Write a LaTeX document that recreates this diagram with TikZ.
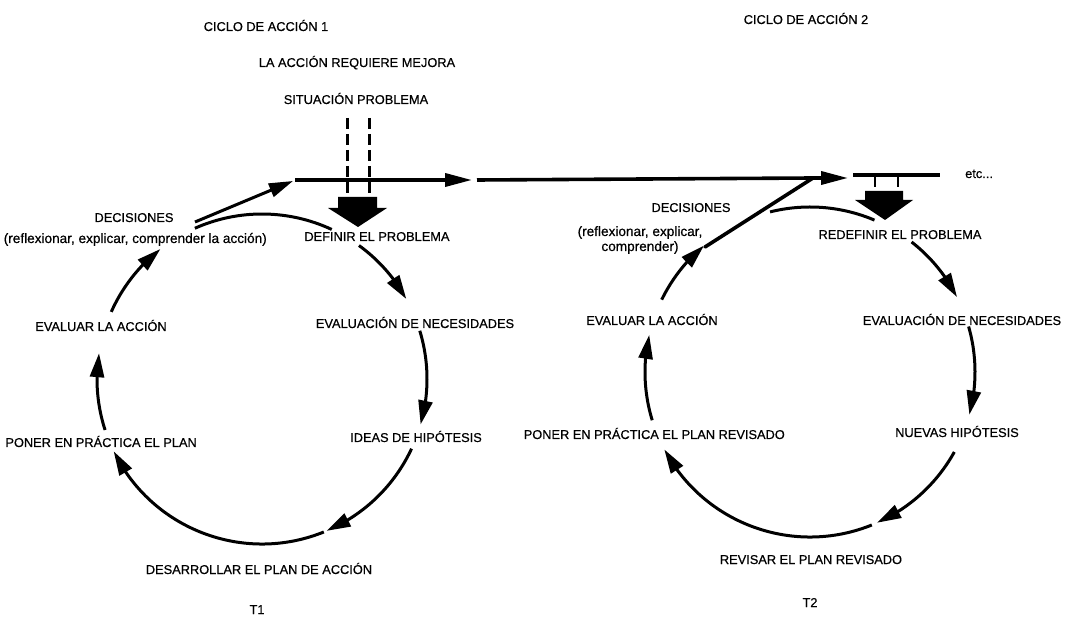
\documentclass[tikz,border=0pt]{standalone}
\usepackage{fontspec}
\setmainfont{Liberation Sans}[FakeBold=0.6]
\usetikzlibrary{arrows.meta,bending}
\begin{document}
\begin{tikzpicture}[x=1pt,y=1pt,
  lbl/.style={inner sep=0pt,font=\fontsize{12.8}{15}\selectfont,anchor=base},
  lbls/.style={inner sep=0pt,font=\fontsize{13.6}{16}\selectfont,anchor=base},
  arcl/.style={line width=3pt},
  arrl/.style={line width=3pt,-{Triangle[length=24pt,width=14pt,flex]}},
  hline/.style={line width=3.6pt},
  harr/.style={line width=3.6pt,-{Triangle[length=27pt,width=13pt]}},
  dashl/.style={line width=3pt,dash pattern=on 11pt off 5pt},
  tick/.style={line width=2.5pt},
  blk/.style={fill=black,draw=none}]
\useasboundingbox (0,0) rectangle (1077,-617);

% ---------- cycle 1 labels ----------
\node[lbl] (ciclo1) at (266,-31) {CICLO DE ACCIÓN 1};
\node[lbl] (mejora) at (357,-67) {LA ACCIÓN REQUIERE MEJORA};
\node[lbl] (sit) at (356,-104) {SITUACIÓN PROBLEMA};
\node[lbl] (dec1) at (134,-222) {DECISIONES};
\node[lbls,anchor=base east] (ref1) at (267,-243) {(reflexionar, explicar, comprender la acción)};
\node[lbl] (def) at (377,-241) {DEFINIR EL PROBLEMA};
\node[lbl] (evn1) at (415,-328) {EVALUACIÓN DE NECESIDADES};
\node[lbl] (ideas) at (416,-442) {IDEAS DE HIPÓTESIS};
\node[lbl] (des) at (259,-574) {DESARROLLAR EL PLAN DE ACCIÓN};
\node[lbl] (t1) at (257,-614) {T1};
\node[lbl,anchor=base east] (pon1) at (197,-447) {PONER EN PRÁCTICA EL PLAN};
\node[lbl] (eva1) at (101,-331) {EVALUAR LA ACCIÓN};

% ---------- cycle 2 labels ----------
\node[lbl] (ciclo2) at (806,-24) {CICLO DE ACCIÓN 2};
\node[lbl] (dec2) at (691,-212) {DECISIONES};
\node[lbls] (ref2a) at (640,-236) {(reflexionar, explicar,};
\node[lbls] (ref2b) at (640,-251) {comprender)};
\node[lbl] (redef) at (900,-239) {REDEFINIR EL PROBLEMA};
\node[lbl] (evn2) at (962,-325) {EVALUACIÓN DE NECESIDADES};
\node[lbl] (nuevas) at (957,-437) {NUEVAS HIPÓTESIS};
\node[lbl,anchor=base east] (pon2) at (785,-439) {PONER EN PRÁCTICA EL PLAN REVISADO};
\node[lbl] (eva2) at (652,-325) {EVALUAR LA ACCIÓN};
\node[lbl] (rev) at (811,-564) {REVISAR EL PLAN REVISADO};
\node[lbl] (t2) at (810,-607) {T2};
\node[lbl,anchor=base west] (etc) at (965,-178) {etc...};

% ---------- centres ----------
\coordinate (c1) at (262,-379);
\coordinate (c2) at (810,-372);

% ---------- cycle 1 arcs ----------
\draw[arcl] ([shift={(c1)}]114:165) arc[start angle=114,end angle=65,radius=165];
\draw[arrl] ([shift={(c1)}]54:165) arc[start angle=54,end angle=29,radius=165];
\draw[arrl] ([shift={(c1)}]17:165) arc[start angle=17,end angle=-16,radius=165];
\draw[arrl] ([shift={(c1)}]-25:165) arc[start angle=-25,end angle=-67,radius=165];
\draw[arrl] ([shift={(c1)}]-68:165) arc[start angle=-68,end angle=-154,radius=165];
\draw[arrl] ([shift={(c1)}]198:165) arc[start angle=198,end angle=171,radius=165];
\draw[arrl] ([shift={(c1)}]156:165) arc[start angle=156,end angle=128,radius=165];

% ---------- cycle 2 arcs ----------
\draw[arcl] ([shift={(c2)}]104:165) arc[start angle=104,end angle=67,radius=165];
\draw[arrl] ([shift={(c2)}]52:165) arc[start angle=52,end angle=27,radius=165];
\draw[arrl] ([shift={(c2)}]16:165) arc[start angle=16,end angle=-15,radius=165];
\draw[arrl] ([shift={(c2)}]-29:165) arc[start angle=-29,end angle=-66,radius=165];
\draw[arrl] ([shift={(c2)}]-68:165) arc[start angle=-68,end angle=-152,radius=165];
\draw[arrl] ([shift={(c2)}]197:165) arc[start angle=197,end angle=167,radius=165];
\draw[arrl] ([shift={(c2)}]154:165) arc[start angle=154,end angle=130,radius=165];

% ---------- problem situation input (cycle 1) ----------
\coordinate (dsl) at (347,-118);
\coordinate (dsle) at (347,-198);
\coordinate (dsr) at (369,-118);
\coordinate (dsre) at (369,-198);
\draw[dashl] (dsl) -- (dsle);
\draw[dashl] (dsr) -- (dsre);
\fill[blk] (338,-197) -- (377,-197) -- (377,-208) -- (387,-208) -- (358,-227)
  -- (328,-208) -- (338,-208) -- cycle;

% ---------- decision lines and horizontal link ----------
\coordinate (d1) at (195,-222);
\coordinate (a1) at (293,-181);
\coordinate (h1) at (295,-180);
\coordinate (h1t) at (472,-180);
\coordinate (h2) at (477,-180);
\coordinate (z) at (813,-178);
\coordinate (d2) at (705,-247);
\coordinate (zt) at (848,-178);
\coordinate (h3) at (853,-175);
\coordinate (h3e) at (940,-175);
\draw[arrl] (d1) -- (a1);
\draw[harr] (h1) -- (h1t);
\draw[hline] (h2) -- (z);
\draw[hline,line cap=round] (d2) -- (z);
\draw[harr] (z) -- (zt);
\draw[hline] (h3) -- (h3e);

% ---------- cycle 2 input ----------
\coordinate (t2a) at (875,-177);
\coordinate (t2ae) at (875,-187);
\coordinate (t2b) at (898,-177);
\coordinate (t2be) at (898,-187);
\draw[tick] (t2a) -- (t2ae);
\draw[tick] (t2b) -- (t2be);
\fill[blk] (865,-191) -- (903,-191) -- (903,-200) -- (913,-200) -- (885,-220)
  -- (855,-200) -- (865,-200) -- cycle;
\end{tikzpicture}
\end{document}
